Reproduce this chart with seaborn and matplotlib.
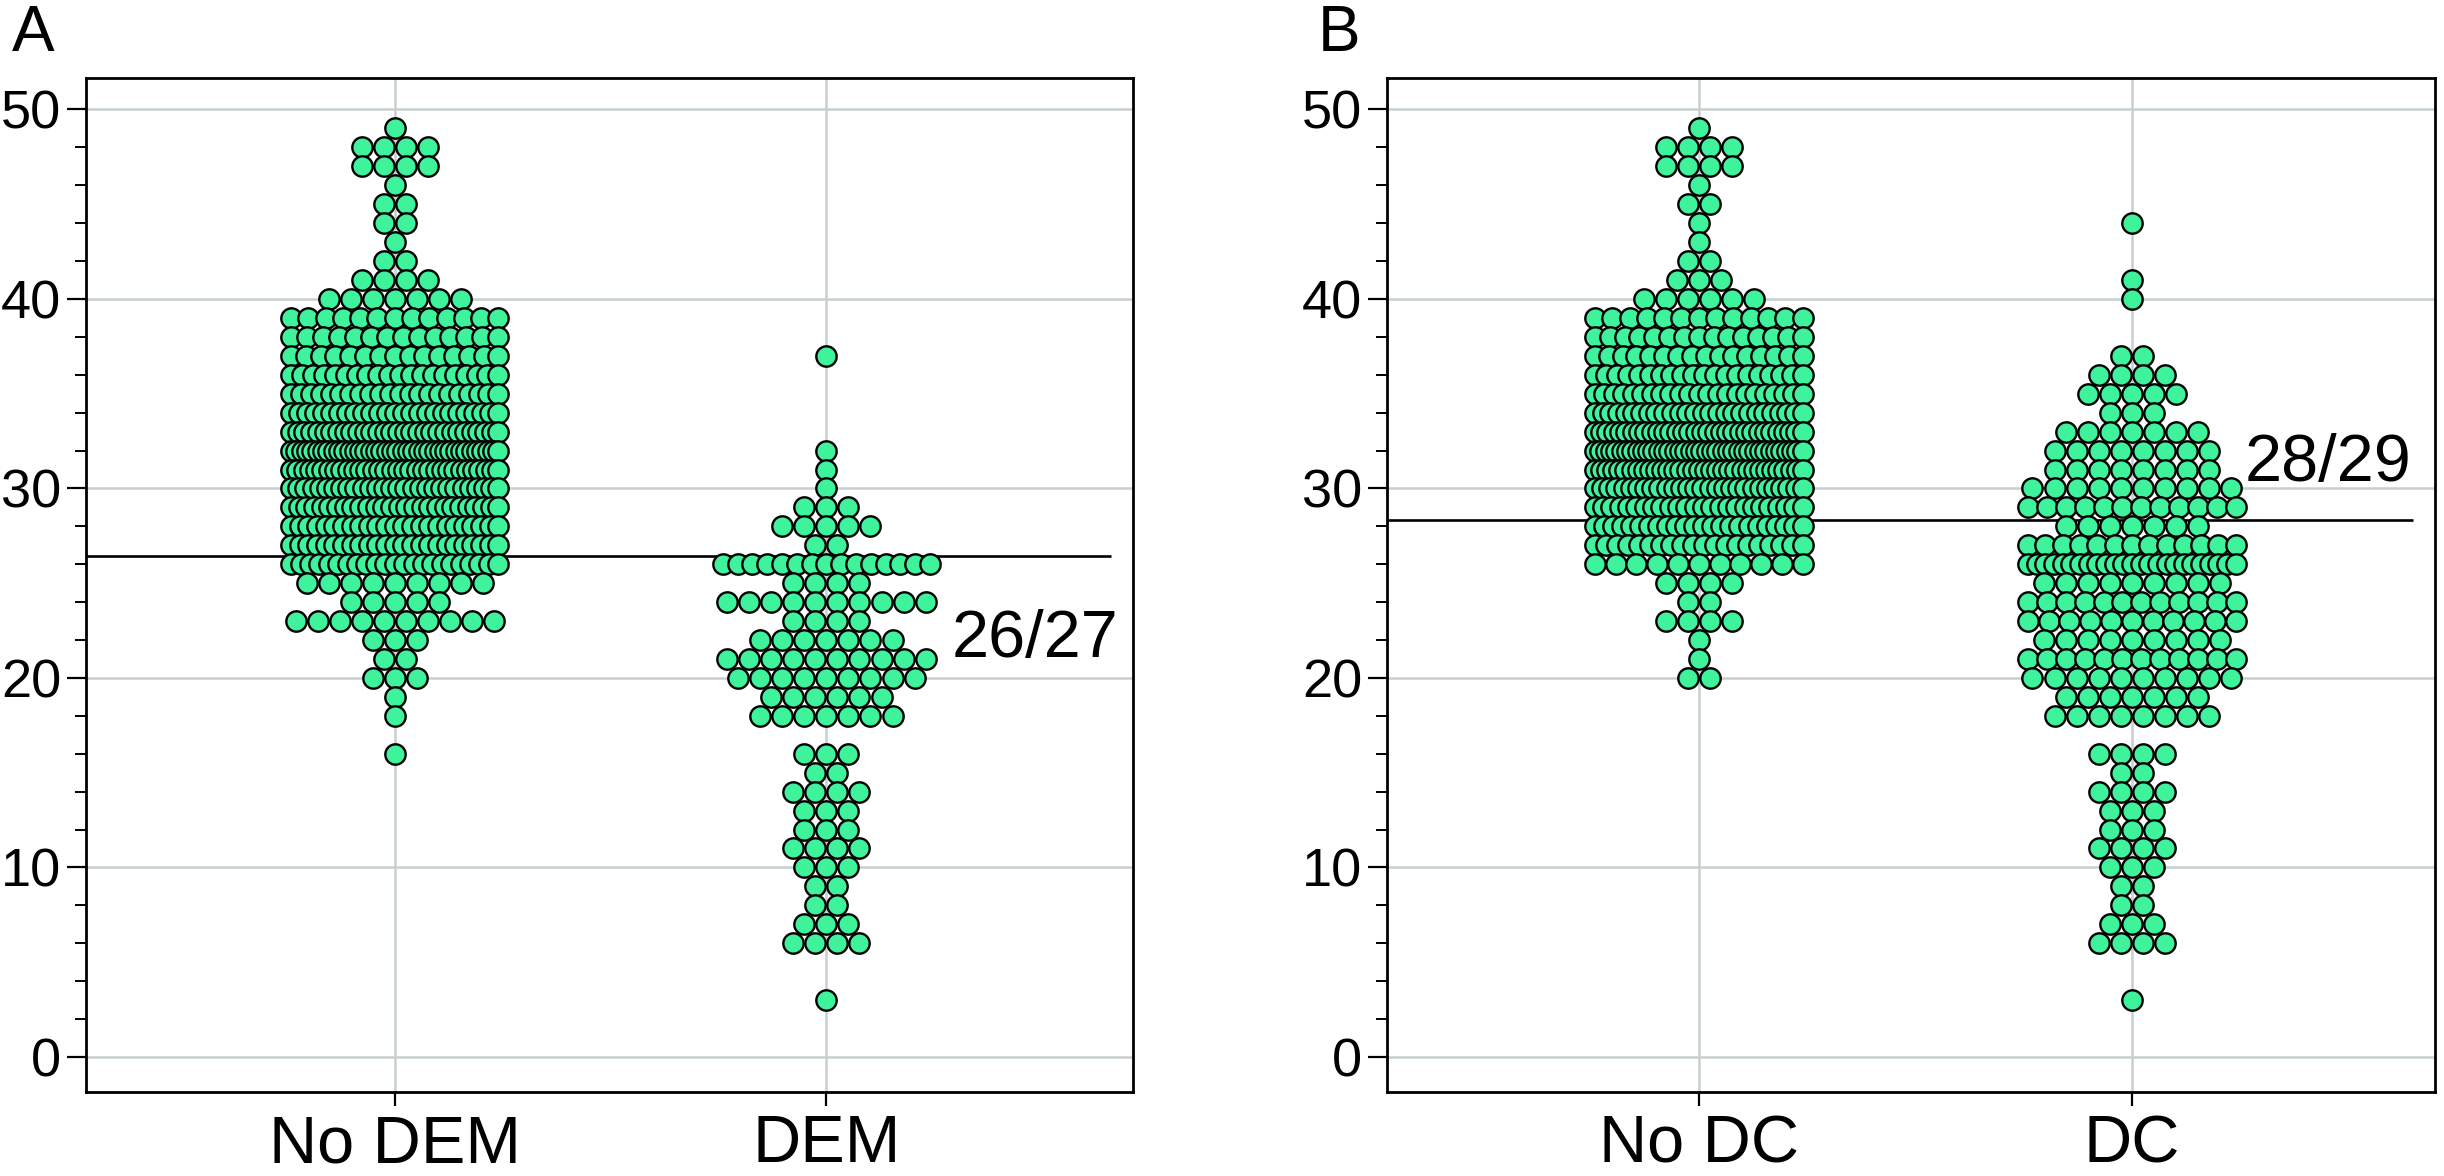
import numpy as np
import pandas as pd
import matplotlib
matplotlib.use("Agg")
import matplotlib.pyplot as plt
import seaborn as sns
from matplotlib.ticker import MultipleLocator

# ---------------- data (score value -> number of subjects) ----------------
no_dem_scores = [16, 18, 19, 20, 21, 22, 23, 24, 25, 26, 27, 28, 29, 30, 31, 32, 33,
                 34, 35, 36, 37, 38, 39, 40, 41, 42, 43, 44, 45, 46, 47, 48, 49]
no_dem_counts = [1, 1, 1, 3, 2, 3, 10, 5, 9, 23, 25, 25, 28, 30, 34, 40, 32,
                 27, 22, 20, 15, 14, 13, 7, 4, 2, 1, 2, 2, 1, 4, 4, 1]

dem_scores = [3, 6, 7, 8, 9, 10, 11, 12, 13, 14, 15, 16, 18, 19, 20, 21, 22, 23,
              24, 25, 26, 27, 28, 29, 30, 31, 32, 37]
dem_counts = [1, 4, 3, 2, 2, 3, 4, 3, 3, 4, 2, 3, 7, 6, 9, 10, 7, 4,
              10, 4, 15, 2, 5, 3, 1, 1, 1, 1]

no_dc_scores = [20, 21, 22, 23, 24, 25, 26, 27, 28, 29, 30, 31, 32, 33, 34, 35, 36,
                37, 38, 39, 40, 41, 42, 43, 44, 45, 46, 47, 48, 49]
no_dc_counts = [2, 1, 1, 4, 2, 4, 11, 20, 24, 26, 30, 35, 40, 34, 28, 23, 20,
                16, 15, 13, 6, 3, 2, 1, 1, 2, 1, 4, 4, 1]

dc_scores = [3, 6, 7, 8, 9, 10, 11, 12, 13, 14, 15, 16, 18, 19, 20, 21, 22, 23, 24,
             25, 26, 27, 28, 29, 30, 31, 32, 33, 34, 35, 36, 37, 40, 41, 44]
dc_counts = [1, 4, 3, 2, 2, 3, 4, 3, 3, 4, 2, 4, 8, 7, 10, 12, 9, 11, 12,
             9, 25, 13, 7, 12, 10, 8, 8, 7, 3, 5, 4, 2, 1, 1, 1]

panel_letters = ["A", "B"]
group_labels = [["No DEM", "DEM"], ["No DC", "DC"]]
cutoffs = [26.45, 28.35]
cutoff_labels = ["26/27", "28/29"]
y_ticks = [0, 10, 20, 30, 40, 50]

# ---------------- layout of dots (centred rows, squeezed when wide) ----------------
DOT_STEP = 0.051    # spacing of touching dots (x data units)
HALF_WIDTH = 0.24   # max half-span of dot centres


def row_layout(scores, counts, pos, group):
    rows = []
    for v, n in zip(scores, counts):
        step = DOT_STEP if n <= 1 else min(DOT_STEP, 2 * HALF_WIDTH / (n - 1))
        offs = (np.arange(n) - (n - 1) / 2.0) * step
        for o in offs:
            rows.append({"x": pos + o, "score": v, "group": group})
    return rows


def build(scores_a, counts_a, scores_b, counts_b, labels):
    rows = row_layout(scores_a, counts_a, 0, labels[0]) + \
        row_layout(scores_b, counts_b, 1, labels[1])
    df = pd.DataFrame(rows)
    # draw top rows first so lower rows lie on top; left to right within a row
    df = df.sort_values(["score", "x"], ascending=[False, True], kind="stable")
    return df


frames = [build(no_dem_scores, no_dem_counts, dem_scores, dem_counts, group_labels[0]),
          build(no_dc_scores, no_dc_counts, dc_scores, dc_counts, group_labels[1])]

# ---------------- figure ----------------
sns.set_style("white")
plt.rcParams["font.family"] = ["Liberation Sans", "DejaVu Sans"]
plt.rcParams["text.color"] = "black"
plt.rcParams["xtick.color"] = "black"
plt.rcParams["ytick.color"] = "black"
plt.rcParams["axes.labelcolor"] = "black"

W, H = 2444, 1176
fig = plt.figure(figsize=(W / 100, H / 100), dpi=100)
rects = [[86 / W, 1 - 1092 / H, (1133 - 86) / W, (1092 - 78) / H],
         [1387 / W, 1 - 1092 / H, (2435 - 1387) / W, (1092 - 78) / H]]
xlims = [(-0.715, 1.71), (-0.72, 1.70)]
line_end = [1.66, 1.65]
text_pos = [(1.29, 22.0), (1.26, 31.3)]
letter_x = [12, 1318]

GREEN = "#3ff29c"
GRID = "#c8d0cf"

for i in range(2):
    ax = fig.add_axes(rects[i])
    ax.set_xlim(*xlims[i])
    ax.set_ylim(-1.85, 51.66)
    ax.set_axisbelow(True)
    for v in y_ticks:
        ax.axhline(v, color=GRID, lw=1.8, zorder=0)
    for p in (0, 1):
        ax.axvline(p, color=GRID, lw=1.8, zorder=0)
    ax.hlines(cutoffs[i], xlims[i][0], line_end[i], color="black", lw=1.9, zorder=1)

    sns.scatterplot(data=frames[i], x="x", y="score", ax=ax, s=215, color=GREEN,
                    edgecolor="black", linewidth=1.7, legend=False, zorder=3)

    ax.set_xticks([0, 1])
    ax.set_xticklabels(group_labels[i], fontsize=48, color="black")
    ax.set_yticks(y_ticks)
    ax.set_yticklabels([str(t) for t in y_ticks], fontsize=39, color="black")
    ax.yaxis.set_minor_locator(MultipleLocator(2))
    ax.tick_params(axis="y", which="major", direction="out", length=14, width=1.6,
                   left=True, pad=4, color="black")
    ax.tick_params(axis="y", which="minor", direction="out", length=8, width=1.4,
                   left=True, color="black")
    ax.tick_params(axis="x", which="major", direction="out", length=10, width=1.6,
                   bottom=True, pad=6, color="black")
    ax.set_xlabel("")
    ax.set_ylabel("")
    for sp in ax.spines.values():
        sp.set_visible(True)
        sp.set_color("black")
        sp.set_linewidth(2.0)
    ax.text(text_pos[i][0], text_pos[i][1], cutoff_labels[i], fontsize=48,
            ha="left", va="center", zorder=4, color="black")
    fig.text(letter_x[i] / W, 1 - 4 / H, panel_letters[i], fontsize=46,
             ha="left", va="top", color="black")

fig.savefig("out.png", dpi=100)
